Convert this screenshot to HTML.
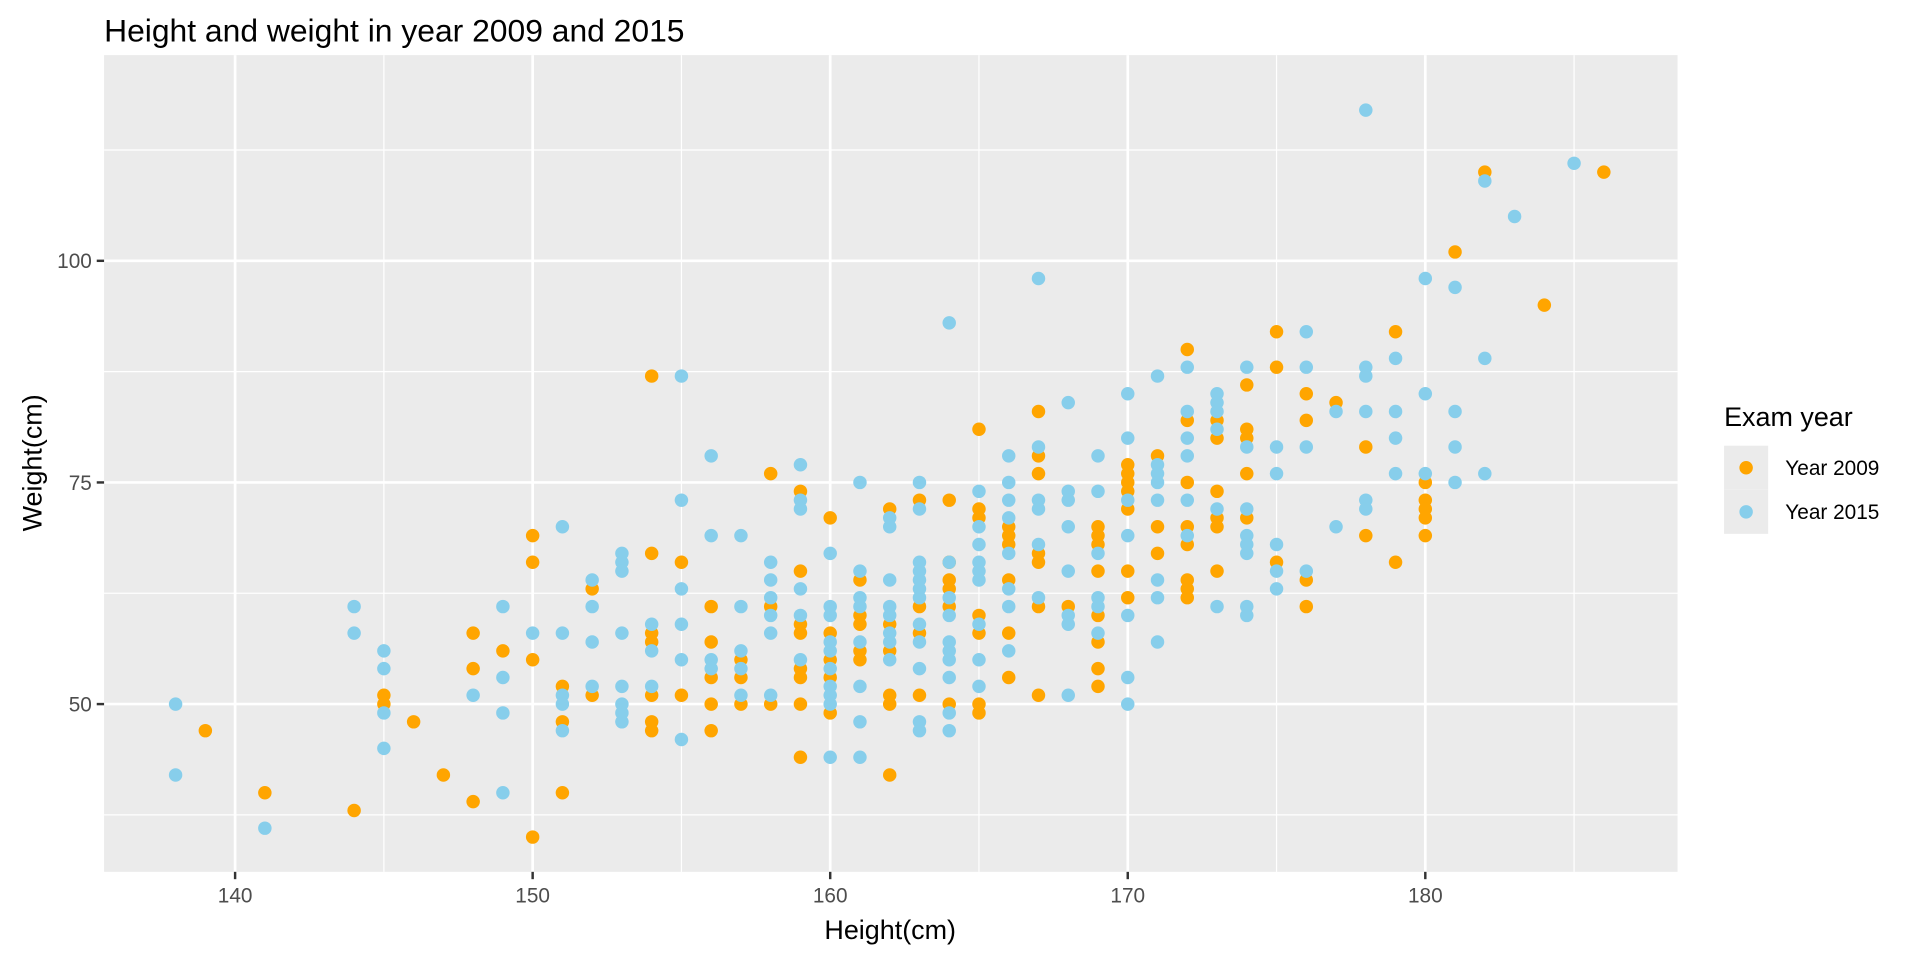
<!DOCTYPE html>
<html><head><style>body{margin:0;background:#fff}svg{display:block}</style></head><body>
<svg id="s" width="1920" height="960" viewBox="0 0 1568 784" preserveAspectRatio="none" xmlns="http://www.w3.org/2000/svg" font-family="Liberation Sans, sans-serif">
<rect x="0" y="0" width="1568" height="784" fill="#fff"/>
<text x="85" y="34" font-size="26" fill="#000">Height and weight in year 2009 and 2015</text>
<rect x="85" y="45" width="1285" height="667" fill="#ebebeb"/>
<g id="grid"></g>
<g id="pts"></g>
<g id="ticks" font-size="17" fill="#4d4d4d"></g>
<text x="727" y="767" font-size="22" text-anchor="middle">Height(cm)</text>
<text transform="translate(34,378) rotate(-90)" font-size="22" text-anchor="middle">Weight(cm)</text>
<text x="1408" y="348" font-size="22">Exam year</text>
<rect x="1408" y="364" width="36" height="36" fill="#ebebeb"/>
<rect x="1408" y="400" width="36" height="36" fill="#ebebeb"/>
<circle cx="1426" cy="382" r="5.5" fill="#ffa500"/>
<circle cx="1426" cy="418" r="5.5" fill="#87ceeb"/>
<text x="1458" y="388" font-size="17">Year 2009</text>
<text x="1458" y="424" font-size="17">Year 2015</text>
</svg>
<script>
const NS="http://www.w3.org/2000/svg";
const X=h=>192+(h-140)*24.3, Y=w=>575-(w-50)*7.24;
function el(p,t,a){const e=document.createElementNS(NS,t);for(const k in a)e.setAttribute(k,a[k]);document.getElementById(p).appendChild(e);return e;}
[145,155,165,175,185].forEach(h=>el("grid","line",{x1:X(h),x2:X(h),y1:45,y2:712,stroke:"#fff","stroke-width":1}));
[37.5,62.5,87.5,112.5].forEach(w=>el("grid","line",{x1:85,x2:1370,y1:Y(w),y2:Y(w),stroke:"#fff","stroke-width":1}));
[140,150,160,170,180].forEach(h=>{el("grid","line",{x1:X(h),x2:X(h),y1:45,y2:712,stroke:"#fff","stroke-width":2.2});
 el("ticks","line",{x1:X(h),x2:X(h),y1:712,y2:718,stroke:"#333","stroke-width":2});
 el("ticks","text",{x:X(h),y:737,"text-anchor":"middle"}).textContent=h;});
[50,75,100].forEach(w=>{el("grid","line",{x1:85,x2:1370,y1:Y(w),y2:Y(w),stroke:"#fff","stroke-width":2.2});
 el("ticks","line",{x1:79,x2:85,y1:Y(w),y2:Y(w),stroke:"#333","stroke-width":2});
 el("ticks","text",{x:75,y:Y(w)+6,"text-anchor":"end"}).textContent=w;});
const D={138:"b50 b42",139:"o47",141:"o40 b36",144:"b61 b58 o38",145:"b56 b54 o51 o50 b49 b45",146:"o48",147:"o42",
148:"o58 o54 b51 o39",149:"b61 o56 b53 b49 b40",150:"o69 o66 b58 o55 o35",151:"b70 b58 o52 b51 b50 o48 b47 o40",
152:"b64 o63 b61 b57 b52 o51",153:"b67 b66 b65 b58 b52 b50 b49 b48",154:"o87 o67 b59 o58 o57 b56 b52 o51 o48 o47",
155:"b87 b73 o66 b63 b59 b55 o51 b46",156:"b78 b69 o61 o57 b55 b54 o53 o50 o47",157:"b69 b61 b56 o55 b54 o53 b51 o50",
158:"o76 b66 b64 b62 o61 b60 b58 b51 o50",159:"b77 o74 b73 b72 o65 b63 b60 o59 o58 b55 o54 o53 o50 o44",
160:"o71 b67 b61 b60 o58 b57 b56 o55 b54 o53 b52 b51 b50 o49 b44",161:"b75 b65 o64 b62 b61 o60 o59 b57 o56 o55 b52 b48 b44",
162:"o72 b71 b70 b64 b61 b60 o59 b58 b57 o56 b55 o51 o50 o42",163:"b75 o73 b72 b66 b65 b64 b63 b62 o61 b59 o58 b57 b54 o51 b48 b47",
164:"b93 o73 o66 b66 o64 o63 b62 o61 b60 b57 b56 b55 b53 o50 b49 b47",165:"o81 b74 o72 o71 b70 b68 b66 b65 b64 o60 b59 o58 b55 b52 o50 o49",
166:"b78 b75 b73 b71 o70 o69 o68 b67 o64 b63 b61 o58 b56 o53",167:"b98 o83 b79 o78 o76 b73 b72 b68 o67 o66 b62 o61 o51",
168:"b84 b74 b73 b70 b65 o61 b60 b59 b51",169:"b78 b74 o70 o69 o68 b67 o65 b62 b61 o60 b58 o57 o54 o52",
170:"b85 b80 o77 o76 o75 o74 b73 o72 b69 o65 o62 b60 b53 b50",171:"b87 o78 b77 b76 b75 b73 o70 o67 b64 b62 b57",
172:"o90 b88 b83 o82 b80 b78 o75 b73 o70 b69 o68 o64 o63 o62",173:"b85 b84 b83 o82 b81 o80 o74 b72 o71 o70 o65 b61",
174:"b88 o86 o81 o80 b79 b72 o76 o71 b69 b68 b67 b61 b60",175:"o92 o88 b79 b76 b68 o66 b65 b63",
176:"b92 b88 o85 o82 b79 b65 o64 o61",177:"o84 b83 b70",178:"b117 b88 b87 b83 o79 b73 b72 o69",
179:"o92 b89 b83 b80 b76 o66",180:"b98 b85 b76 o75 o73 o72 o71 o69",181:"o101 b97 b83 b79 b75",
182:"o110 b109 b89 b76",183:"b105",184:"o95",185:"b111",186:"o110"};
const pts=[];for(const h in D)D[h].split(" ").forEach(s=>pts.push([+h,+s.slice(1),s[0]]));
pts.filter(p=>p[2]=="o").concat(pts.filter(p=>p[2]=="b")).forEach(p=>el("pts","circle",{cx:X(p[0]),cy:Y(p[1]),r:5.5,fill:p[2]=="o"?"#ffa500":"#87ceeb"}));
</script>
</body></html>
